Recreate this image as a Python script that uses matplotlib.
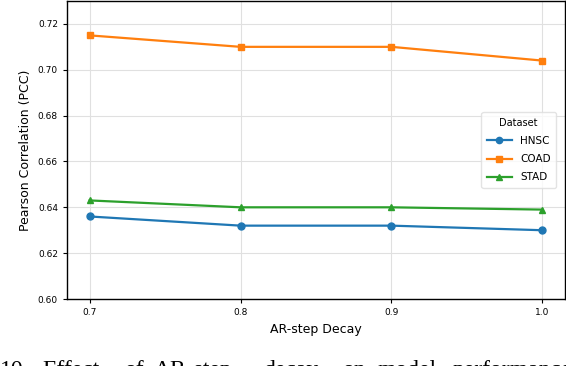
import matplotlib
matplotlib.use("Agg")
import matplotlib.pyplot as plt

# AR-step decay values and PCC per dataset
decay = [0.7, 0.8, 0.9, 1.0]
hnsc = [0.636, 0.632, 0.632, 0.630]
coad = [0.715, 0.710, 0.710, 0.704]
stad = [0.643, 0.640, 0.640, 0.639]

series = [
    ("HNSC", hnsc, "#1f77b4", "o"),
    ("COAD", coad, "#ff7f0e", "s"),
    ("STAD", stad, "#2ca02c", "^"),
]

# words of the clipped caption underneath the figure in the source page
caption_words = ["10.", "Effect", "of", "AR-step", "decay", "on", "model", "performance"]
caption_x_px = [0, 42, 124, 154, 263, 342, 377, 453]

W, H = 566, 366
fig = plt.figure(figsize=(W / 100, H / 100), dpi=100)
ax = fig.add_axes([67 / W, 67 / H, 498 / W, 298 / H])

for name, vals, color, marker in series:
    ax.plot(decay, vals, color=color, marker=marker, markersize=5, linewidth=1.6, label=name)

ax.set_ylim(0.60, 0.73)
ax.set_xticks(decay)
ax.set_xticklabels(["0.7", "0.8", "0.9", "1.0"])
ax.set_yticks([0.60, 0.62, 0.64, 0.66, 0.68, 0.70, 0.72])
ax.tick_params(labelsize=6.5, length=3, width=0.8)
ax.grid(True, color="#e0e0e0", linewidth=0.8)
ax.set_axisbelow(True)
for sp in ax.spines.values():
    sp.set_linewidth(1.0)
    sp.set_color("black")

ax.set_xlabel("AR-step Decay", fontsize=9)
ax.set_ylabel("Pearson Correlation (PCC)", fontsize=9)

leg = ax.legend(title="Dataset", fontsize=7.5, title_fontsize=7,
                loc="center right", bbox_to_anchor=(0.992, 0.50),
                labelspacing=0.8, handlelength=2.4, markerscale=0.9,
                borderpad=0.5, frameon=True, fancybox=True, edgecolor="#dddddd")

for word, xp in zip(caption_words, caption_x_px):
    fig.text(xp / W, -0.028, word, family="Liberation Serif", fontsize=17,
             va="baseline", ha="left")

fig.savefig("out.png", dpi=100)
